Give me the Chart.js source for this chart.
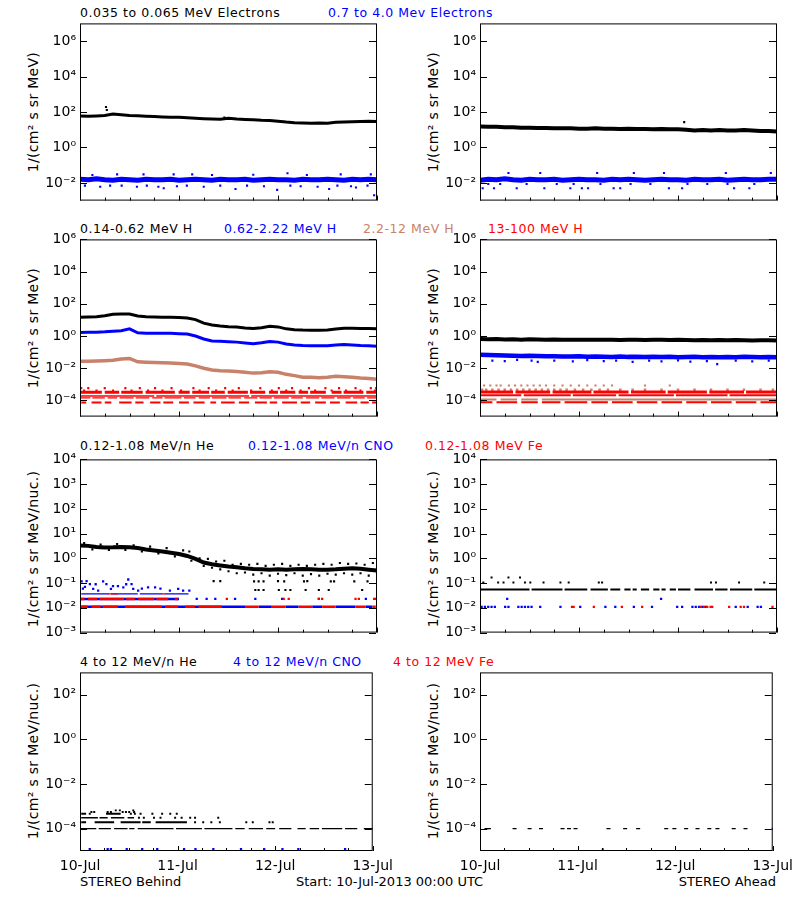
<!DOCTYPE html>
<html>
<head>
<meta charset="utf-8">
<title>STEREO particle fluxes, 10-13 Jul 2013</title>
<script src="https://cdn.jsdelivr.net/npm/chart.js@4.4.1/dist/chart.umd.min.js"></script>
<style>
  body { margin: 0; background: #fff; }
  #page { position: relative; width: 800px; height: 900px; overflow: hidden; font-family: "DejaVu Sans", sans-serif; color: #000; }
  canvas { position: absolute; }
  .t { position: absolute; white-space: nowrap; font-size: 12.5px; letter-spacing: 0.55px; transform: translateY(-50%); line-height: 1; }
  .yt { position: absolute; white-space: nowrap; font-size: 14px; letter-spacing: 0.3px; transform: translate(-50%, -50%) rotate(-90deg); line-height: 1; }
  .b { position: absolute; white-space: nowrap; font-size: 13px; transform: translateY(-50%); line-height: 1; }
</style>
</head>
<body>
<div id="page">
  <div class="t" style="left:80px;top:13px">0.035 to 0.065 MeV Electrons</div>
  <div class="t" style="left:328px;top:13px;color:#0000ff">0.7 to 4.0 Mev Electrons</div>

  <div class="t" style="left:80px;top:229px">0.14-0.62 MeV H</div>
  <div class="t" style="left:224px;top:229px;color:#0000ff">0.62-2.22 MeV H</div>
  <div class="t" style="left:363px;top:229px;color:#c88269">2.2-12 MeV H</div>
  <div class="t" style="left:488px;top:229px;color:#ff0000">13-100 MeV H</div>

  <div class="t" style="left:80px;top:446px">0.12-1.08 MeV/n He</div>
  <div class="t" style="left:248px;top:446px;color:#0000ff">0.12-1.08 MeV/n CNO</div>
  <div class="t" style="left:425px;top:446px;color:#ff0000">0.12-1.08 MeV Fe</div>

  <div class="t" style="left:80px;top:662px">4 to 12 MeV/n He</div>
  <div class="t" style="left:233px;top:662px;color:#0000ff">4 to 12 MeV/n CNO</div>
  <div class="t" style="left:393px;top:662px;color:#ff0000">4 to 12 MeV Fe</div>

  <div class="yt" style="left:33px;top:112px">1/(cm² s sr MeV)</div>
  <div class="yt" style="left:433px;top:112px">1/(cm² s sr MeV)</div>
  <div class="yt" style="left:33px;top:328px">1/(cm² s sr MeV)</div>
  <div class="yt" style="left:433px;top:328px">1/(cm² s sr MeV)</div>
  <div class="yt" style="left:33px;top:549px">1/(cm² s sr MeV/nuc.)</div>
  <div class="yt" style="left:433px;top:549px">1/(cm² s sr MeV/nuc.)</div>
  <div class="yt" style="left:33px;top:761px">1/(cm² s sr MeV/nuc.)</div>
  <div class="yt" style="left:433px;top:761px">1/(cm² s sr MeV/nuc.)</div>

  <div class="b" style="left:80px;top:881px">STEREO Behind</div>
  <div class="b" style="left:296px;top:881px">Start: 10-Jul-2013 00:00 UTC</div>
  <div class="b" style="right:24px;top:881px">STEREO Ahead</div>
</div>
<script>
// Colours used by the plot
const BLACK = '#000000', BLUE = '#0000ff', BROWN = '#c88269', RED = '#ff0000';

// Time axis, hours after 10-Jul-2013 00:00 UTC
const T2 = [0,2,4,6,8,10,12,14,16,18,20,22,24,26,28,30,32,34,36,38,40,42,44,46,48,50,52,54,56,58,60,62,64,66,68,70,72];
const X_TICKS = [0,6,12,18,24,30,36,42,48,54,60,66,72];
const DAY_HOURS = [0,24,48,72];
const DAY_LABELS = ['10-Jul','11-Jul','12-Jul','13-Jul'];

// Y ranges / tick values per row
const Y_RANGE = [[1e-3,1e7],[1e-5,1e6],[1e-3,1e4],[1e-5,1e3]];
const Y_TICKS = [
  [1e-2,1,1e2,1e4,1e6],
  [1e-4,1e-2,1,1e2,1e4,1e6],
  [1e-3,1e-2,1e-1,1,1e1,1e2,1e3,1e4],
  [1e-4,1e-2,1,1e2]
];

// --- Row 1: electrons ---
const BEH_E_LO = [60,58,60,63,76,70,64,61,58,55,53,51,50,47,44,42,40,39,44,40,38,36,34,33,30,27,25,24,23,24,23,26,27,28,29,30,29];
const BEH_E_LO_SPIKES = [[6.3,190],[6.5,130],[35,48]];
const BEH_E_HI = [0.016,0.015,0.017,0.015,0.014,0.016,0.015,0.014,0.016,0.015,0.015,0.016,0.014,0.015,0.016,0.015,0.014,0.016,0.015,0.015,0.016,0.014,0.015,0.016,0.015,0.015,0.014,0.016,0.015,0.015,0.016,0.015,0.014,0.016,0.015,0.016,0.015];
const BEH_E_HI_SCAT = [[1.2,0.007],[3,0.028],[4.9,0.006],[7.3,0.007],[9,0.03],[10.1,0.007],[13.8,0.006],[15.4,0.03],[16.2,0.007],[19,0.006],[20.3,0.005],[22.7,0.03],[23.5,0.0065],[25.9,0.007],[27.2,0.03],[30,0.006],[32,0.028],[34,0.007],[37.7,0.0045],[40.5,0.007],[42,0.029],[44.6,0.0065],[47.8,0.004],[50.3,0.035],[51,0.007],[53.5,0.0065],[55,0.028],[57.6,0.006],[60.4,0.0045],[62.4,0.007],[63.2,0.03],[65.7,0.0065],[66.9,0.0055],[69.7,0.007],[70.5,0.03],[71.3,0.002]];

const AHE_E_LO = [15,14.5,14.5,14,14,13,13,12.5,12.5,12,12,12,11.5,11.5,12,11.5,11.5,11,11.5,11,11,10.5,11,10.5,10.5,10,9,9.5,9,9.5,9,9,9.5,9,8.5,8.5,8];
const AHE_E_LO_SPIKES = [[49.5,27]];
const AHE_E_HI = [0.014,0.016,0.015,0.017,0.015,0.014,0.016,0.015,0.015,0.016,0.014,0.015,0.016,0.015,0.015,0.014,0.016,0.015,0.016,0.015,0.014,0.015,0.016,0.015,0.015,0.014,0.016,0.015,0.015,0.016,0.014,0.015,0.016,0.015,0.015,0.016,0.016];
const AHE_E_HI_SCAT = [[0.65,0.005],[2,0.0087],[3.4,0.005],[4.9,0.0087],[6.9,0.036],[8.9,0.005],[11.3,0.0087],[14.6,0.036],[15.6,0.005],[18.6,0.0087],[21.9,0.005],[22.7,0.0087],[24.7,0.005],[26.2,0.005],[28.4,0.036],[29.2,0.0087],[32.4,0.005],[34,0.005],[36.5,0.0087],[37.3,0.036],[41.3,0.0087],[44.6,0.036],[45.8,0.005],[49,0.005],[50.3,0.0087],[55.1,0.0087],[59.6,0.036],[60,0.0087],[61.6,0.005],[65.3,0.005],[66.5,0.0087],[70.5,0.036]];

// --- Row 2: protons ---
const BEH_H1 = [14.8,15.1,15.8,18.2,22.4,23.4,23.4,17.8,15.8,15.1,14.8,14.8,14.1,13.2,10.5,6.3,4.8,4.2,3.8,3.6,3.2,2.95,3.3,4.0,3.7,2.8,2.5,2.35,2.3,2.3,2.35,2.75,3.0,3.0,2.95,2.9,2.8];
const BEH_H2 = [1.66,1.70,1.74,1.82,2.0,2.14,2.8,1.58,1.51,1.51,1.48,1.48,1.41,1.32,1.0,0.66,0.50,0.47,0.45,0.42,0.37,0.33,0.38,0.46,0.42,0.32,0.28,0.26,0.25,0.25,0.25,0.28,0.30,0.28,0.26,0.25,0.23];
const BEH_H3 = [0.0275,0.0275,0.0282,0.0295,0.0316,0.038,0.041,0.0251,0.024,0.0229,0.0224,0.0214,0.020,0.0182,0.0141,0.010,0.0079,0.0071,0.0068,0.0063,0.0056,0.0050,0.0052,0.0060,0.0056,0.0042,0.0035,0.0028,0.0028,0.0026,0.0028,0.0032,0.0030,0.0028,0.0025,0.0023,0.0021];
// 13-100 MeV H sits on count-quantised levels
const BEH_H4_LEVELS = [5.9e-4, 4.2e-4, 3.3e-4, 1.9e-4, 1.46e-4, 7.6e-5];
const BEH_H4_L0 = [0.3,2,6,11,14.5,18.2,22.2,27.5,31.2,35.2,38.5,43.7,48.2,51.4,55.5,59.5,62.8,66.8,70.5,71.8];
const BEH_H4_L1 = [1,4,8,12.5,16.5,20,24.5,29,33,37,41.5,46.5,50,53.5,57,61,64.5,68,71.5];
const BEH_H4_L2 = [[0,5.3],[6,9.5],[10,15.2],[15.9,23],[23.9,26.6],[27.2,31.3],[31.8,35.1],[35.8,40.7],[41.2,44.9],[45.8,48],[48.5,52.2],[53,55.3],[55.8,59.6],[61,63.4],[63.9,68.7],[69.4,72]];
const BEH_H4_L3 = [[0,18],[18.5,41],[41.5,72]];
const BEH_H4_L4 = [[0,2.5],[3,6],[6.7,9],[9.6,13],[13.5,16.8],[17.5,20],[20.5,24.6],[25.2,28],[28.8,31.5],[32,35.5],[36,39],[39.8,43],[43.5,46.5],[47,50.6],[51.2,54],[54.8,58],[58.5,61.7],[62.3,65.6],[66.2,69],[69.6,72]];
const BEH_H4_L5 = [[0.3,1.5],[2.8,5.2],[6,7.6],[9.5,12.5],[13.4,15.4],[17,19.5],[20.2,22.6],[24,26.4],[27.5,30.2],[31.6,33],[34.2,37.5],[38.5,41],[42.4,45.3],[46,47.8],[49,52.6],[53.5,55.8],[57,59.6],[60.6,63],[64.4,67.2],[68,70],[70.8,72]];

const AHE_H1 = [0.65,0.63,0.66,0.62,0.64,0.6,0.63,0.61,0.6,0.62,0.6,0.58,0.6,0.59,0.6,0.58,0.6,0.57,0.59,0.58,0.57,0.6,0.58,0.56,0.58,0.56,0.55,0.57,0.55,0.56,0.54,0.56,0.55,0.53,0.55,0.54,0.53];
const AHE_H2 = [0.068,0.066,0.064,0.062,0.06,0.058,0.06,0.057,0.055,0.056,0.054,0.053,0.055,0.052,0.054,0.052,0.05,0.053,0.051,0.052,0.05,0.052,0.05,0.051,0.049,0.05,0.051,0.049,0.05,0.048,0.05,0.049,0.051,0.05,0.049,0.05,0.048];
const AHE_H2_SCAT = [[3,0.03],[6,0.028],[9,0.033],[12.5,0.03],[14,0.025],[18,0.03],[22.5,0.027],[26,0.032],[30,0.028],[33,0.03],[37,0.025],[41,0.03],[44,0.027],[48,0.031],[51,0.026],[55,0.028],[57.5,0.018],[62,0.03],[66,0.027],[70,0.03]];
const AHE_H3_LEVELS = [8.5e-4, 4.7e-4, 1.15e-4];
const AHE_H3_L0 = [1,2.5,4,5,7,8.5,10,11.5,13,14.5,16,18,20,22,24,26,28,30,32,40,46];
const AHE_H3_L1 = [0.5,1.5,3,4.5,6,7.5,9,10.5,12,13.5,15,16.5,18,19.5,21,23,25,27,29,31,34,37,40,44,48,52,56,60,64,68,71];
const AHE_H3_L2 = [[0,4],[5,9],[10,14],[15,72]];
const AHE_H4_LEVELS = [3.4e-4, 2.1e-4, 7.8e-5];
const AHE_H4_L0 = [[0,8],[8.6,17],[17.6,27],[27.5,36],[36.6,45],[45.5,55],[55.6,64],[64.5,72]];
const AHE_H4_L1 = [[0,10],[10.6,22],[22.5,33],[33.6,47],[47.5,60],[60.5,72]];
const AHE_H4_L2 = [[0,3],[4,9],[10,14],[15,19.5],[20.5,26],[27,31],[32,37],[38,43],[44,49],[50,55],[56,61],[62,67],[68,72]];

// --- Row 3: suprathermal He / CNO / Fe ---
const BEH_HE = [3.3,3.2,2.9,2.75,2.8,2.9,2.8,2.6,2.3,2.1,1.9,1.7,1.5,1.25,0.95,0.68,0.58,0.52,0.47,0.44,0.4,0.37,0.36,0.35,0.36,0.35,0.36,0.37,0.36,0.35,0.35,0.36,0.38,0.4,0.38,0.35,0.32];
const BEH_HE_SCAT = [[1,4.2],[3,2.3],[5,3.6],[7,2.2],[9,3.8],[11,2.2],[13,3.4],[15,1.9],[17,3.0],[19,1.6],[21,2.6],[23,1.2],[25,2.1],[26.5,1.9],[27,0.8],[29,1.0],[30,0.5],[31,0.95],[32,0.42],[33,0.75],[34,0.36],[35,0.8],[36,0.3],[37,0.55],[38,0.25],[39,0.6],[40,0.27],[41,0.55],[42,0.22],[43,0.6],[44,0.25],[45,0.5],[46,0.2],[47,0.55],[48,0.24],[49,0.6],[50,0.21],[51,0.5],[52,0.25],[53,0.55],[54,0.2],[55,0.5],[56,0.23],[57,0.55],[58,0.2],[59,0.6],[60,0.24],[61,0.55],[62,0.22],[63,0.65],[64,0.25],[65,0.6],[66,0.22],[67,0.62],[68,0.25],[69,0.55],[70,0.2],[71,0.65],[72,0.26]];
const BEH_HE_LOW = [[32.4,0.12],[34,0.12],[42.2,0.117],[43.3,0.117],[44.5,0.117],[48,0.12],[49.5,0.117],[54.3,0.117],[55.1,0.12],[60.8,0.117],[61.6,0.117],[66.5,0.117],[69.7,0.117],[42.5,0.053],[43.3,0.053],[44.5,0.053],[48.2,0.053],[49.8,0.053],[51,0.053],[54.7,0.053],[57.9,0.053],[60.3,0.053],[68.4,0.053]];
const SUPRA_LEVELS = [0.011, 0.023, 0.037];
const BEH_CNO_L0 = [[0,34.4],[34.4,40],[43.3,46.5],[49.8,53],[56.3,58.7],[62,66.8],[69.3,70.9]];
const BEH_CNO_L1 = [[0,24]];
const BEH_CNO_L1_DOTS = [28.3,30.7,32.8,37.6,42.5,49,57.9,69.3];
const BEH_CNO_L2 = [[0.3,7],[7.5,14],[14.5,20],[20.5,26.3]];
const BEH_CNO_SCAT = [[0.4,0.118],[0.7,0.06],[1.2,0.07],[1.6,0.12],[2.4,0.092],[3.2,0.059],[3.8,0.09],[4.4,0.05],[5.6,0.118],[6.4,0.092],[7.5,0.059],[8,0.075],[9.2,0.075],[10.5,0.068],[11.2,0.09],[11.7,0.14],[12.5,0.092],[12.9,0.059],[14.1,0.05],[15,0.06],[16.5,0.068],[18.2,0.068],[19.5,0.06],[21.8,0.05],[23.8,0.059],[25,0.05],[26.5,0.05]];
const BEH_FE_L0 = [[0,1.9],[2.8,5],[5.5,9.2],[10.9,19.8],[20.6,23.8],[25.5,27.9],[28.7,34.4],[40,43.3],[46.5,49.8],[53,56.3],[58.7,62],[66.8,69.3],[70.9,71.7]];
const BEH_FE_L1 = [[0,1.1],[1.9,4.2],[4.7,10.7],[11.2,13.3],[14.1,18],[18.5,21.4],[23,23.8]];
const BEH_FE_L1_DOTS = [35.6,49.4,50.6,57.9,58.7,66.8,67.6,71.3,71.7];
const BEH_FE_L2 = [[6.8,9.2],[19.8,20.6]];

const AHE_HE_L0 = [[0,12],[12.5,20],[20.5,26],[26.8,31],[31.6,34],[35,36.5],[37,38],[39,41],[42,43.5],[44,45],[46,47.5],[48,51],[52,56.5],[57,60],[60.6,66],[66.5,72]];
const AHE_HE_LEVEL = 0.055;
const AHE_HE_DOTS = [[0.8,0.107],[2.8,0.17],[4.4,0.107],[5.7,0.107],[6.9,0.17],[8.1,0.107],[9.7,0.17],[10.9,0.107],[12.2,0.107],[15.4,0.107],[19.5,0.107],[21.5,0.107],[28.8,0.107],[29.6,0.107],[56,0.107],[57.2,0.107],[62.8,0.107],[68.9,0.107]];
const AHE_CNO_DOTS = [0.4,1.2,2,2.8,3.6,6.1,6.9,9.3,10.1,10.9,11.7,12.5,14.6,19.5,24.3,30.4,32.8,37.3,41.7,47.8,49,51.5,52.3,53.1,53.9,54.7,62,64.9,67.3,68.1];
const AHE_CNO_HIGH = [[6.6,0.023],[43.9,0.023]];
const AHE_FE_DOTS = [22.3,22.7,27.6,34.4,39.3,53.5,54.3,55.1,55.9,56.3,60.4,63.2,64,70.9];

// --- Row 4: 4-12 MeV/n ions ---
const HE4_LEVELS = [1e-4, 1.95e-4, 3.1e-4, 4.7e-4, 5.6e-4, 6.6e-4];
const BEH_HE4_L0 = [[0,4],[4.6,7.6],[8.4,11.7],[12.1,13.4],[14.2,23],[23.6,30],[30.6,37.5],[38.2,40.5],[41.5,45],[45.8,48],[49,52],[53.5,55.5],[56.5,58.8],[59.5,64.5],[65.2,68.2],[69.8,72]];
const BEH_HE4_L1 = [[0.3,1.5],[3.6,8.4],[10,14.9],[15.3,17.4],[18.6,26.3]];
const BEH_HE4_L1_DOTS = [28.3,30.3,32.3,34.4,40.9,42.5,46.6,47.4];
const BEH_HE4_L2 = [[0.3,4.4],[4.8,6.8],[7.6,10.9],[11.7,13.3]];
const BEH_HE4_L2_DOTS = [14.5,15.7,18.2,19.8,23.4,25,27.1,28.3,34];
const BEH_HE4_L3 = [[0.3,1.5],[6.4,10]];
const BEH_HE4_L3_DOTS = [2.4,12.5,13.5,14.9,17.8,20.2,22.2,23.8];
const BEH_HE4_L4_DOTS = [2.8,3.5,6.8,7.6,10.5,11.3,12.1,13.3];
const BEH_HE4_L5_DOTS = [8.8,9.8,13.1];
const CNO4_LEVEL = 1.2e-5;
const BEH_CNO4_DOTS = [2.4,6.8,7.6,11.5,15.3,19.0,25.6,28.4,32.8,39.6,45.3,49.8,53.7,65.2];
const AHE_HE4_DOTS = [1.6,2.2,8.5,12.2,15,20.3,21.9,23.5,31.6,35.7,38.9,45.8,47.8,50.7,53.5,56.4,58.4,62.4,65.3];
const AHE_CNO4_PTS = [[30.2,1.2e-5],[72,1e-4]];

// Layout of the 4x2 grid (page pixels)
const ROW_TOP = [23, 239, 459, 672];
const ROW_BOT = [203, 419, 635, 851];
const PAD_T = 12;

// helpers turning the arrays above into chart points
const line = (t, v) => t.map((x, i) => ({ x, y: v[i] }));
const pts = list => list.map(([x, y]) => ({ x, y }));
const level = (hours, v) => hours.map(x => ({ x, y: v }));
const runs = (list, v) => list.flatMap(([a, b]) => [{ x: a, y: v }, { x: b, y: v }, { x: b, y: null }]);

function band(data, color, width, order) {
  return { data, showLine: true, borderColor: color, borderWidth: width, pointRadius: 0, order, clip: 0 };
}
function dots(data, color, r, order, style) {
  const isLine = style === 'line';
  return { data, showLine: false, pointStyle: style || 'rect', pointRadius: r, backgroundColor: color,
           borderColor: color, borderWidth: isLine ? 1.3 : 0, order, clip: 0 };
}

const SUP = { '-': '⁻', '0': '⁰', '1': '¹', '2': '²', '3': '³', '4': '⁴', '5': '⁵', '6': '⁶', '7': '⁷', '8': '⁸', '9': '⁹' };
const pow10 = v => '10' + String(Math.round(Math.log10(v))).split('').map(c => SUP[c]).join('');

const PANELS = [
  { row: 0, col: 0, datasets: [
    band(line(T2, BEH_E_LO), BLACK, 3, 3),
    dots(pts(BEH_E_LO_SPIKES), BLACK, 1.5, 3),
    band(line(T2, BEH_E_HI), BLUE, 5, 2),
    dots(pts(BEH_E_HI_SCAT), BLUE, 1.5, 2)
  ]},
  { row: 0, col: 1, datasets: [
    band(line(T2, AHE_E_LO), BLACK, 4, 3),
    dots(pts(AHE_E_LO_SPIKES), BLACK, 1.5, 3),
    band(line(T2, AHE_E_HI), BLUE, 5, 2),
    dots(pts(AHE_E_HI_SCAT), BLUE, 1.5, 2)
  ]},
  { row: 1, col: 0, datasets: [
    band(line(T2, BEH_H1), BLACK, 3, 3),
    band(line(T2, BEH_H2), BLUE, 3, 2),
    band(line(T2, BEH_H3), BROWN, 3.5, 1),
    dots(level(BEH_H4_L0, BEH_H4_LEVELS[0]), RED, 1.5, 0),
    dots(level(BEH_H4_L1, BEH_H4_LEVELS[1]), RED, 1.5, 0),
    band(runs(BEH_H4_L2, BEH_H4_LEVELS[2]), RED, 3, 0),
    band(runs(BEH_H4_L3, BEH_H4_LEVELS[3]), RED, 1.3, 0),
    band(runs(BEH_H4_L4, BEH_H4_LEVELS[4]), RED, 1.3, 0),
    band(runs(BEH_H4_L5, BEH_H4_LEVELS[5]), RED, 2, 0)
  ]},
  { row: 1, col: 1, datasets: [
    band(line(T2, AHE_H1), BLACK, 4, 3),
    band(line(T2, AHE_H2), BLUE, 4.5, 2),
    dots(pts(AHE_H2_SCAT), BLUE, 1.5, 2),
    dots(level(AHE_H3_L0, AHE_H3_LEVELS[0]), BROWN, 1.5, 1),
    dots(level(AHE_H3_L1, AHE_H3_LEVELS[1]), BROWN, 1.8, 1),
    band(runs(AHE_H3_L2, AHE_H3_LEVELS[2]), BROWN, 2, 1),
    band(runs(AHE_H4_L0, AHE_H4_LEVELS[0]), RED, 3, 0),
    band(runs(AHE_H4_L1, AHE_H4_LEVELS[1]), RED, 2, 0),
    band(runs(AHE_H4_L2, AHE_H4_LEVELS[2]), RED, 2, 0)
  ]},
  { row: 2, col: 0, datasets: [
    band(line(T2, BEH_HE), BLACK, 4, 3),
    dots(pts(BEH_HE_SCAT), BLACK, 1.5, 3),
    dots(pts(BEH_HE_LOW), BLACK, 1.5, 3),
    band(runs(BEH_CNO_L0, SUPRA_LEVELS[0]), BLUE, 2.5, 2),
    band(runs(BEH_CNO_L1, SUPRA_LEVELS[1]), BLUE, 2.5, 2),
    dots(level(BEH_CNO_L1_DOTS, SUPRA_LEVELS[1]), BLUE, 1.6, 2),
    band(runs(BEH_CNO_L2, SUPRA_LEVELS[2]), BLUE, 1.3, 2),
    dots(pts(BEH_CNO_SCAT), BLUE, 1.6, 2),
    band(runs(BEH_FE_L0, SUPRA_LEVELS[0]), RED, 2.5, 0),
    band(runs(BEH_FE_L1, SUPRA_LEVELS[1]), RED, 2.5, 0),
    dots(level(BEH_FE_L1_DOTS, SUPRA_LEVELS[1]), RED, 1.6, 0),
    band(runs(BEH_FE_L2, SUPRA_LEVELS[2]), RED, 1.3, 0)
  ]},
  { row: 2, col: 1, datasets: [
    band(runs(AHE_HE_L0, AHE_HE_LEVEL), BLACK, 2, 3),
    dots(pts(AHE_HE_DOTS), BLACK, 1.4, 3),
    dots(level(AHE_CNO_DOTS, SUPRA_LEVELS[0]), BLUE, 1.6, 2),
    dots(pts(AHE_CNO_HIGH), BLUE, 1.6, 2),
    dots(level(AHE_FE_DOTS, SUPRA_LEVELS[0]), RED, 1.6, 0)
  ]},
  { row: 3, col: 0, datasets: [
    band(runs(BEH_HE4_L0, HE4_LEVELS[0]), BLACK, 1.3, 3),
    band(runs(BEH_HE4_L1, HE4_LEVELS[1]), BLACK, 2, 3),
    dots(level(BEH_HE4_L1_DOTS, HE4_LEVELS[1]), BLACK, 1.4, 3),
    band(runs(BEH_HE4_L2, HE4_LEVELS[2]), BLACK, 1.5, 3),
    dots(level(BEH_HE4_L2_DOTS, HE4_LEVELS[2]), BLACK, 1.4, 3),
    band(runs(BEH_HE4_L3, HE4_LEVELS[3]), BLACK, 2, 3),
    dots(level(BEH_HE4_L3_DOTS, HE4_LEVELS[3]), BLACK, 1.4, 3),
    dots(level(BEH_HE4_L4_DOTS, HE4_LEVELS[4]), BLACK, 1.4, 3),
    dots(level(BEH_HE4_L5_DOTS, HE4_LEVELS[5]), BLACK, 1.4, 3),
    dots(level(BEH_CNO4_DOTS, CNO4_LEVEL), BLUE, 1.6, 2)
  ]},
  { row: 3, col: 1, datasets: [
    dots(level(AHE_HE4_DOTS, HE4_LEVELS[0]), BLACK, 2, 3, 'line'),
    dots(pts(AHE_CNO4_PTS), BLUE, 1.4, 2)
  ]}
];

// box + inward tick marks, as on the original plot
const frame = {
  id: 'frame',
  afterDatasetsDraw(chart) {
    const { ctx, chartArea: a, scales: { x, y } } = chart;
    ctx.save();
    ctx.strokeStyle = '#000';
    ctx.lineWidth = 1;
    ctx.strokeRect(a.left + 0.5, a.top + 0.5, a.right - a.left - 1, a.bottom - a.top - 1);
    ctx.beginPath();
    y.ticks.forEach(t => {
      const py = Math.round(y.getPixelForValue(t.value)) + 0.5;
      ctx.moveTo(a.left, py); ctx.lineTo(a.left + 7, py);
      ctx.moveTo(a.right - 1, py); ctx.lineTo(a.right - 8, py);
    });
    x.ticks.forEach(t => {
      const px = Math.round(x.getPixelForValue(t.value)) + 0.5;
      const len = DAY_HOURS.includes(t.value) ? 5 : 3;
      ctx.moveTo(px, a.bottom); ctx.lineTo(px, a.bottom - len);
    });
    ctx.stroke();
    ctx.restore();
  }
};

const page = document.getElementById('page');

PANELS.forEach(p => {
  const padB = p.row === 3 ? 26 : 10;
  const h = ROW_BOT[p.row] - ROW_TOP[p.row] + PAD_T + padB;
  const canvas = document.createElement('canvas');
  canvas.width = 400;
  canvas.height = h;
  canvas.style.left = (p.col * 400) + 'px';
  canvas.style.top = (ROW_TOP[p.row] - PAD_T) + 'px';
  canvas.style.width = '400px';
  canvas.style.height = h + 'px';
  page.appendChild(canvas);

  new Chart(canvas, {
    type: 'scatter',
    data: { datasets: p.datasets },
    options: {
      responsive: false,
      animation: false,
      devicePixelRatio: 1,
      events: [],
      layout: { padding: { top: PAD_T, right: 23, bottom: 0, left: 0 } },
      plugins: { legend: { display: false }, tooltip: { enabled: false } },
      scales: {
        x: {
          type: 'linear',
          min: 0,
          max: 72,
          afterBuildTicks: s => { s.ticks = X_TICKS.map(v => ({ value: v })); },
          afterFit: s => { s.height = padB; },
          grid: { display: false, drawTicks: false },
          border: { display: false },
          ticks: {
            display: p.row === 3,
            autoSkip: false,
            maxRotation: 0,
            padding: 7,
            color: '#000',
            font: { family: 'DejaVu Sans', size: 14 },
            callback: v => { const i = DAY_HOURS.indexOf(v); return i >= 0 ? DAY_LABELS[i] : ''; }
          }
        },
        y: {
          type: 'logarithmic',
          min: Y_RANGE[p.row][0],
          max: Y_RANGE[p.row][1],
          afterBuildTicks: s => { s.ticks = Y_TICKS[p.row].map(v => ({ value: v })); },
          afterFit: s => { s.width = 80; },
          grid: { display: false, drawTicks: false },
          border: { display: false },
          ticks: {
            autoSkip: false,
            padding: 4,
            color: '#000',
            font: { family: 'DejaVu Sans', size: 14 },
            callback: v => pow10(v)
          }
        }
      }
    },
    plugins: [frame]
  });
});
</script>
</body>
</html>
